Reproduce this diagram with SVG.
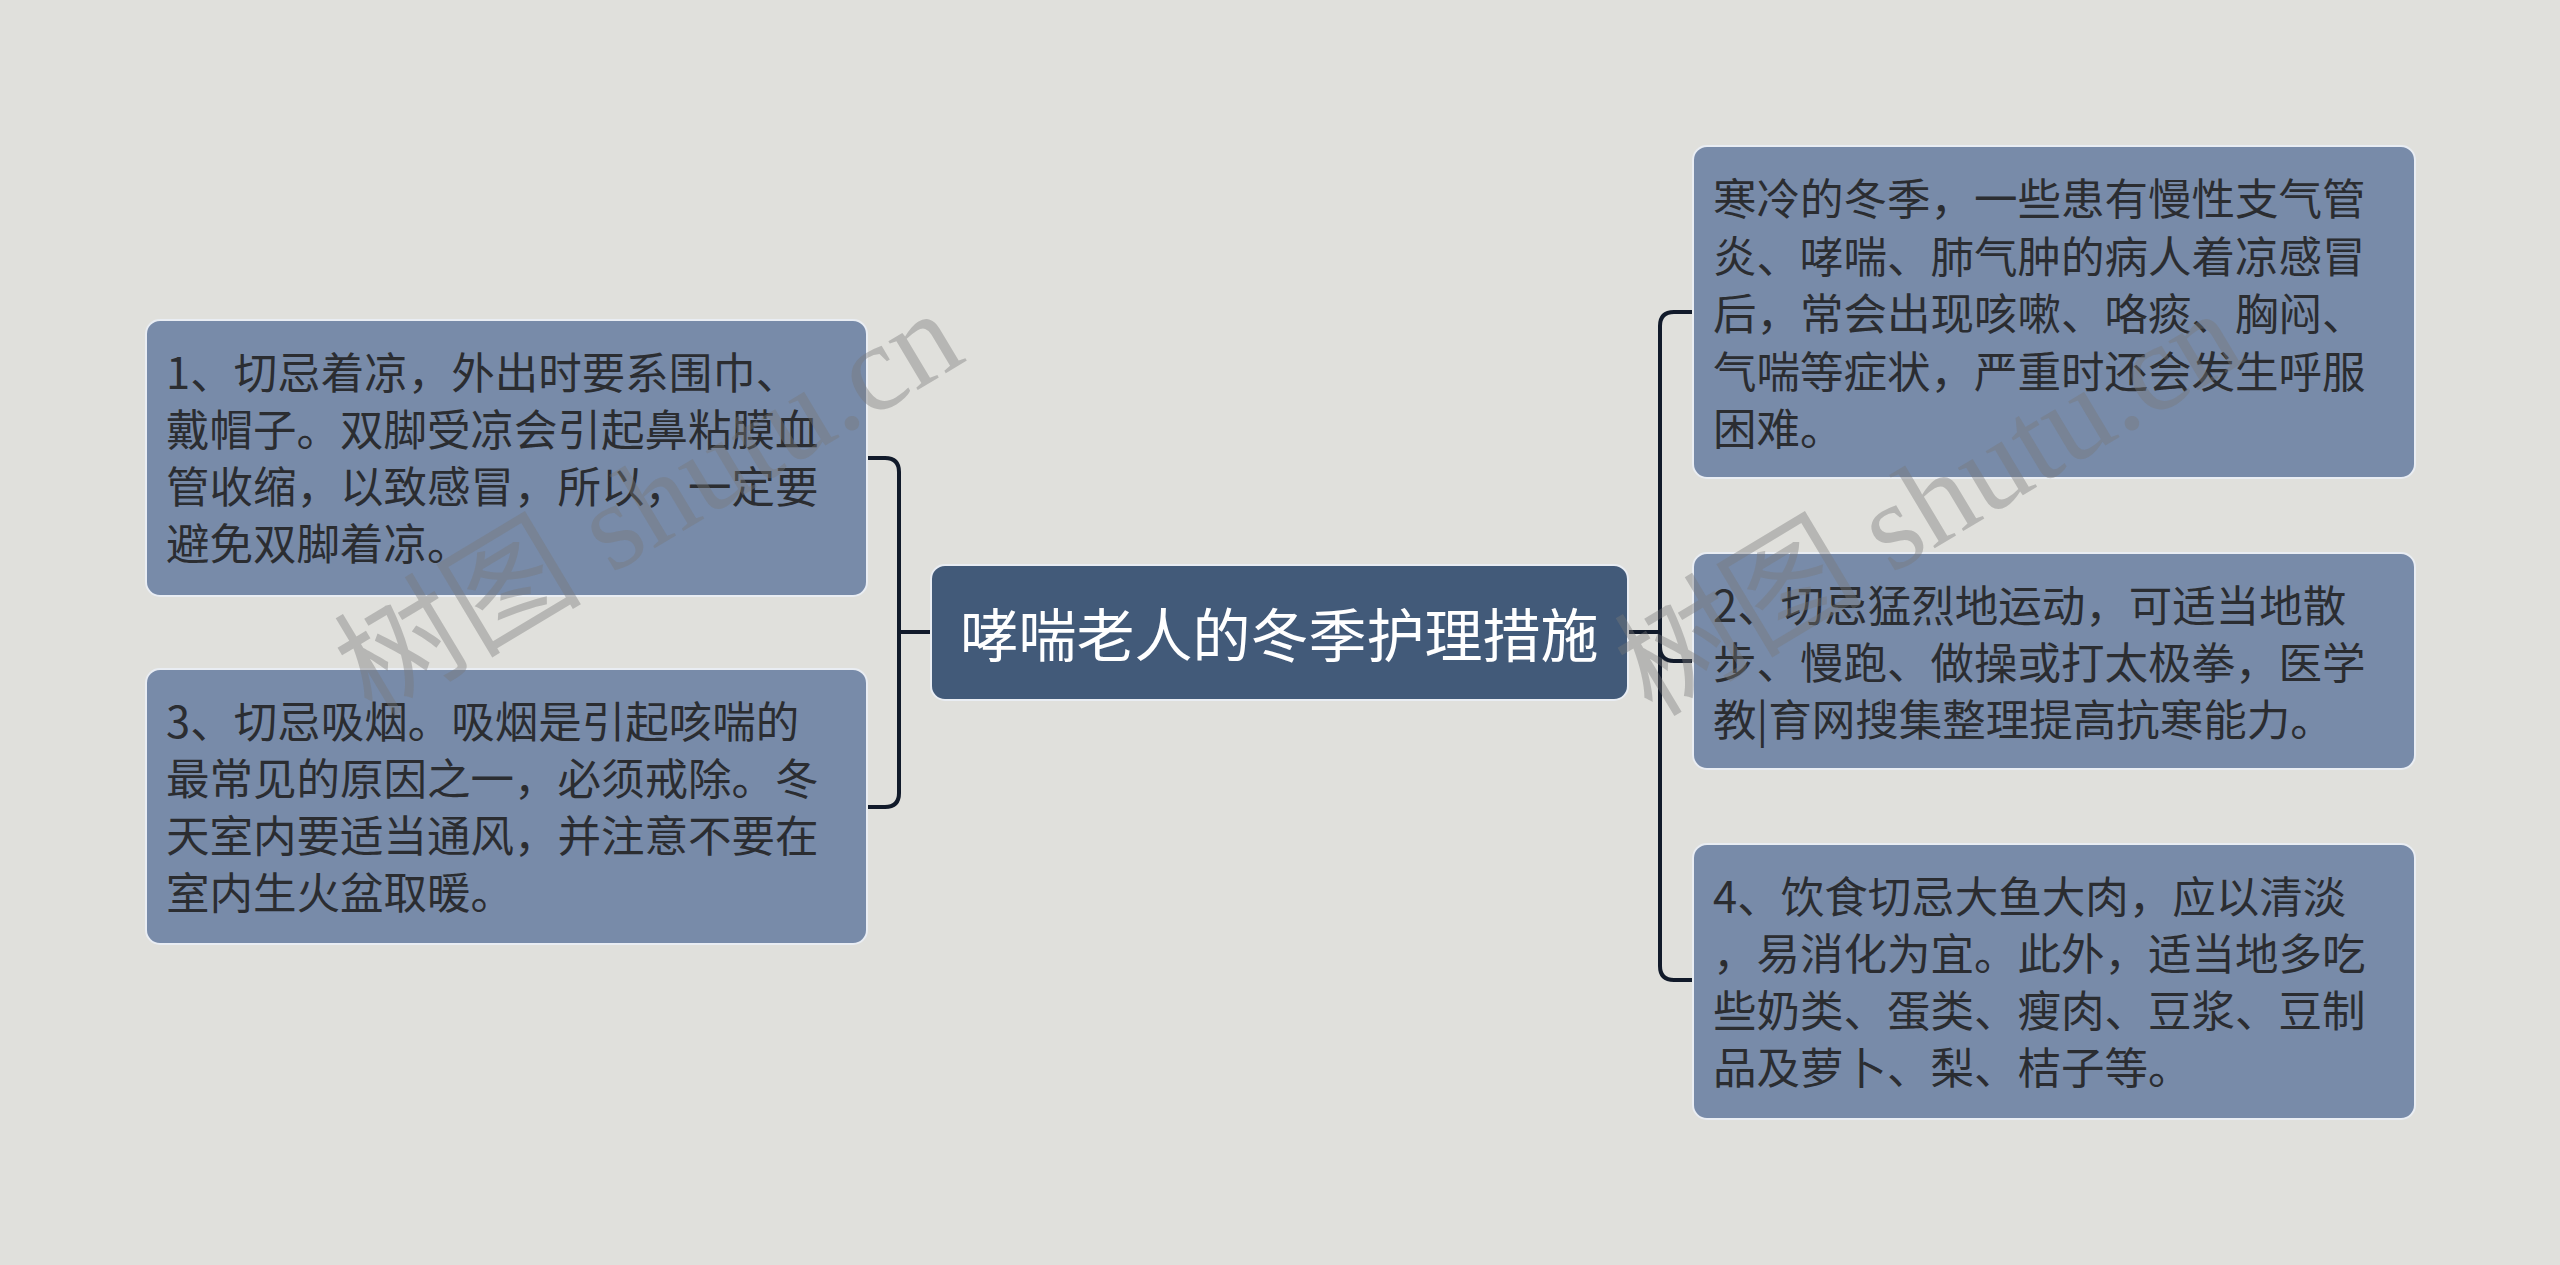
<svg xmlns="http://www.w3.org/2000/svg" width="2560" height="1265" viewBox="0 0 2560 1265">
<style>
.bg{fill:#E0E0DC}
.box{fill:#788BA9;stroke:#E9EDF3;stroke-width:2}
.root{fill:#425A79;stroke:#E9EDF3;stroke-width:2}
.t{font-family:"Noto Sans CJK SC","Noto Sans",sans-serif;font-size:43.5px;fill:#2B2D31;dominant-baseline:central}
.rt{font-family:"Noto Sans CJK SC","Noto Sans",sans-serif;font-size:58px;fill:#FFFFFF;dominant-baseline:central;text-anchor:middle}
.conn path{fill:none;stroke:#111A2A;stroke-width:4;stroke-linecap:round}
.wm{font-family:"Liberation Serif","Noto Sans CJK SC",serif;font-size:124px;fill:#777777;fill-opacity:0.4}
</style>
<rect class="bg" x="0" y="0" width="2560" height="1265"/>
<g id="connectors" class="conn">
<path d="M931,632 H899 V472 Q899,458 885,458 H867"/>
<path d="M931,632 H899 V793 Q899,807 885,807 H867"/>
<path d="M1628,632 H1660 V326 Q1660,312 1674,312 H1693"/>
<path d="M1628,632 H1660 V647 Q1660,661 1674,661 H1693"/>
<path d="M1628,632 H1660 V966 Q1660,980 1674,980 H1693"/>
</g>
<g id="root">
<rect class="root" x="931" y="565" width="697" height="135" rx="14"/>
<text class="rt" x="1279.5" y="632">哮喘老人的冬季护理措施</text>
</g>
<g id="node1">
<rect class="box" x="146" y="320" width="721" height="276" rx="14"/>
<text class="t" x="166"><tspan x="166" y="370">1、切忌着凉，外出时要系围巾、</tspan><tspan x="166" y="427">戴帽子。双脚受凉会引起鼻粘膜血</tspan><tspan x="166" y="484">管收缩，以致感冒，所以，一定要</tspan><tspan x="166" y="541">避免双脚着凉。</tspan></text>
</g>
<g id="node3">
<rect class="box" x="146" y="669" width="721" height="275" rx="14"/>
<text class="t"><tspan x="166" y="719">3、切忌吸烟。吸烟是引起咳喘的</tspan><tspan x="166" y="776">最常见的原因之一，必须戒除。冬</tspan><tspan x="166" y="833">天室内要适当通风，并注意不要在</tspan><tspan x="166" y="890">室内生火盆取暖。</tspan></text>
</g>
<g id="nodeA">
<rect class="box" x="1693" y="146" width="722" height="332" rx="14"/>
<text class="t"><tspan x="1713" y="196">寒冷的冬季，一些患有慢性支气管</tspan><tspan x="1713" y="254">炎、哮喘、肺气肿的病人着凉感冒</tspan><tspan x="1713" y="311">后，常会出现咳嗽、咯痰、胸闷、</tspan><tspan x="1713" y="369">气喘等症状，严重时还会发生呼服</tspan><tspan x="1713" y="426">困难。</tspan></text>
</g>
<g id="node2">
<rect class="box" x="1693" y="553" width="722" height="216" rx="14"/>
<text class="t"><tspan x="1713" y="603">2、切忌猛烈地运动，可适当地散</tspan><tspan x="1713" y="660">步、慢跑、做操或打太极拳，医学</tspan><tspan x="1713" y="717">教|育网搜集整理提高抗寒能力。</tspan></text>
</g>
<g id="node4">
<rect class="box" x="1693" y="844" width="722" height="275" rx="14"/>
<text class="t"><tspan x="1713" y="894">4、饮食切忌大鱼大肉，应以清淡</tspan><tspan x="1713" y="951">，易消化为宜。此外，适当地多吃</tspan><tspan x="1713" y="1008">些奶类、蛋类、瘦肉、豆浆、豆制</tspan><tspan x="1713" y="1065">品及萝卜、梨、桔子等。</tspan></text>
</g>
<g id="watermarks">
<text class="wm" transform="translate(372,718) rotate(-31)">树图 shutu.cn</text>
<text class="wm" transform="translate(1652,718) rotate(-31)">树图 shutu.cn</text>
</g>
</svg>
